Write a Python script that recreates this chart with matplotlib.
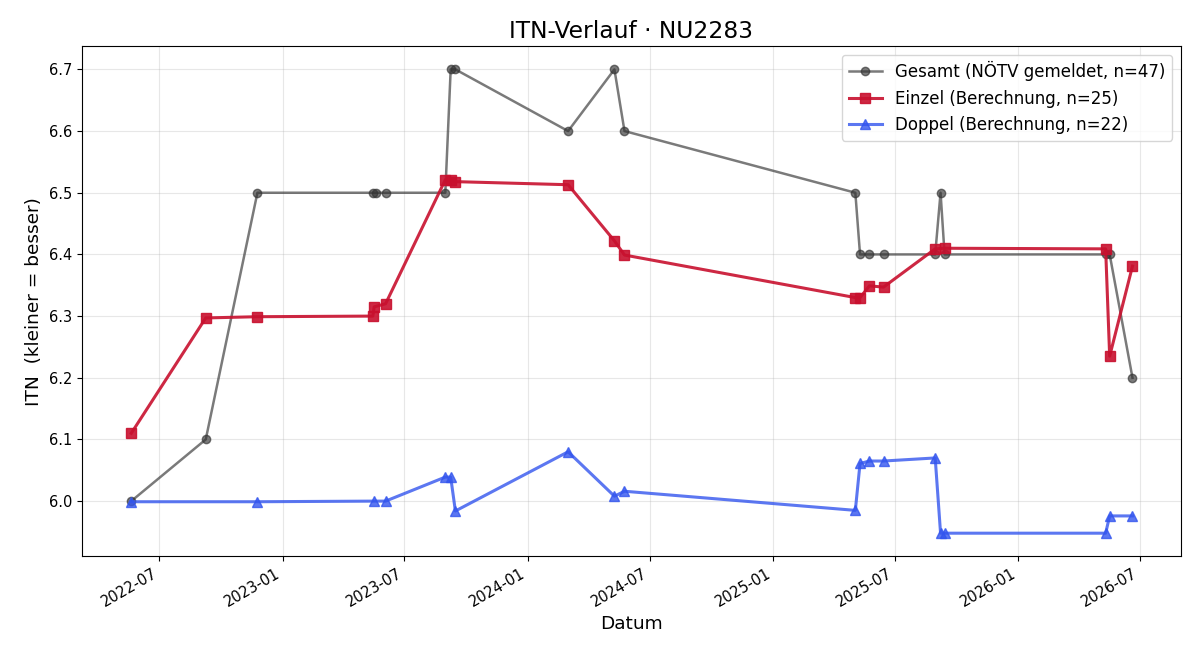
import matplotlib
matplotlib.use('Agg')
import matplotlib.pyplot as plt
import matplotlib.dates as mdates
import pandas as pd

# Gesamt (NÖTV gemeldet)
gesamt_datum = ['2022-05-20', '2022-09-08', '2022-11-24', '2023-05-15', '2023-05-19',
                '2023-06-03', '2023-08-31', '2023-09-08', '2023-09-15', '2024-03-01',
                '2024-05-09', '2024-05-24', '2025-05-03', '2025-05-10', '2025-05-24',
                '2025-06-14', '2025-08-30', '2025-09-07', '2025-09-13', '2026-05-11',
                '2026-05-17', '2026-06-20']
gesamt_itn = [6.0, 6.1, 6.5, 6.5, 6.5,
              6.5, 6.5, 6.7, 6.7, 6.6,
              6.7, 6.6, 6.5, 6.4, 6.4,
              6.4, 6.4, 6.5, 6.4, 6.4,
              6.4, 6.2]

# Einzel (Berechnung)
einzel_datum = ['2022-05-20', '2022-09-08', '2022-11-24', '2023-05-15', '2023-05-17',
                '2023-06-03', '2023-08-31', '2023-09-08', '2023-09-15', '2024-03-01',
                '2024-05-09', '2024-05-24', '2025-05-03', '2025-05-10', '2025-05-24',
                '2025-06-14', '2025-08-30', '2025-09-13', '2026-05-11', '2026-05-17',
                '2026-06-20']
einzel_itn = [6.110, 6.297, 6.299, 6.300, 6.315,
              6.320, 6.521, 6.520, 6.518, 6.513,
              6.422, 6.399, 6.330, 6.330, 6.349,
              6.347, 6.409, 6.410, 6.409, 6.235,
              6.381]

# Doppel (Berechnung)
doppel_datum = ['2022-05-20', '2022-11-24', '2023-05-17', '2023-06-03', '2023-08-31',
                '2023-09-08', '2023-09-15', '2024-03-01', '2024-05-09', '2024-05-24',
                '2025-05-03', '2025-05-10', '2025-05-24', '2025-06-14', '2025-08-30',
                '2025-09-07', '2025-09-13', '2026-05-11', '2026-05-17', '2026-06-20']
doppel_itn = [5.999, 5.999, 6.000, 6.000, 6.039,
              6.039, 5.984, 6.080, 6.008, 6.016,
              5.985, 6.061, 6.065, 6.065, 6.070,
              5.948, 5.948, 5.948, 5.976, 5.976]

fig, ax = plt.subplots(figsize=(12, 6.6), dpi=100)

ax.plot(pd.to_datetime(gesamt_datum), gesamt_itn, marker='o', color='#333333', alpha=0.65,
        lw=1.8, ms=6, label='Gesamt (NÖTV gemeldet, n=47)')
ax.plot(pd.to_datetime(einzel_datum), einzel_itn, marker='s', color='#C8102E', alpha=0.9,
        lw=2.2, ms=7, label='Einzel (Berechnung, n=25)')
ax.plot(pd.to_datetime(doppel_datum), doppel_itn, marker='^', color='#3355EE', alpha=0.8,
        lw=2.2, ms=7, label='Doppel (Berechnung, n=22)')

ax.set_xlim(pd.Timestamp('2022-03-07'), pd.Timestamp('2026-08-31'))
ax.xaxis.set_major_locator(mdates.MonthLocator(bymonth=[1, 7]))
ax.xaxis.set_major_formatter(mdates.DateFormatter('%Y-%m'))
fig.autofmt_xdate()

ax.set_title('ITN-Verlauf · NU2283', fontsize=16.8)
ax.set_xlabel('Datum', fontsize=13.3)
ax.set_ylabel('ITN  (kleiner = besser)', fontsize=13.3)
ax.tick_params(labelsize=10.5)
ax.grid(True, alpha=0.3)
ax.legend(loc='upper right', fontsize=12)

plt.subplots_adjust(left=0.068, right=0.984, top=0.93, bottom=0.157)
plt.savefig('out.png')
